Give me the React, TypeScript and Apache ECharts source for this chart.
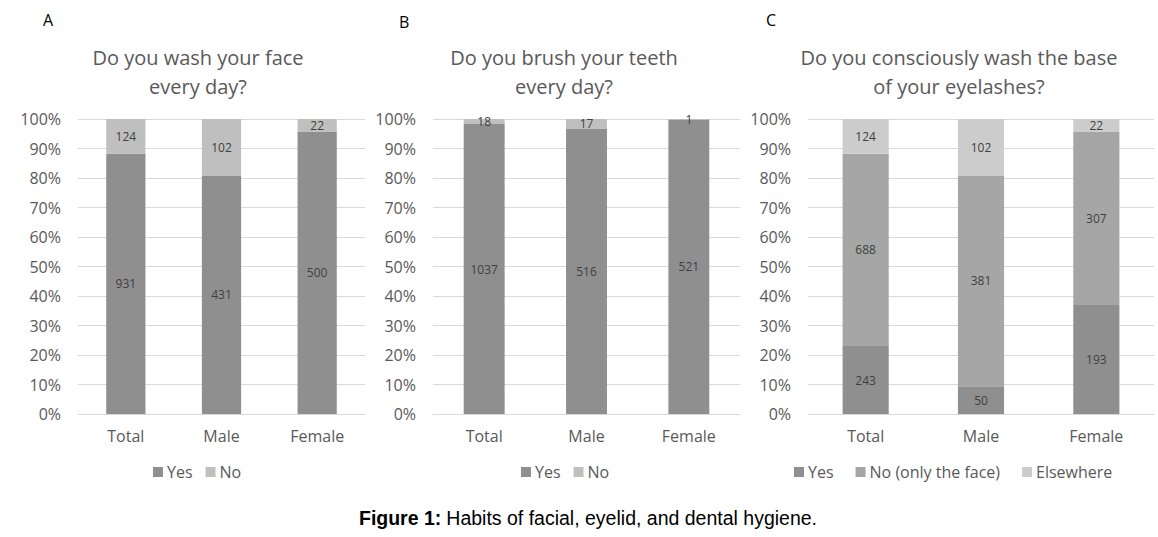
import React, { useEffect, useRef } from "react";
import * as echarts from "echarts";

const categories = ["Total", "Male", "Female"];
const faceYes = [931, 431, 500];
const faceNo = [124, 102, 22];
const teethYes = [1037, 516, 521];
const teethNo = [18, 17, 1];
const lashYes = [243, 50, 193];
const lashNoFace = [688, 381, 307];
const lashElsewhere = [124, 102, 22];
const yTicks = [0, 10, 20, 30, 40, 50, 60, 70, 80, 90, 100];

const FONT = "'Open Sans', sans-serif";
const TXT = "#595959";

function pct(values: number[], groups: number[][]) {
  return values.map((v, i) => {
    const tot = groups.reduce((s, g) => s + g[i], 0);
    return { value: (v / tot) * 100, count: v };
  });
}

export default function App() {
  const ref = useRef<HTMLDivElement>(null);
  useEffect(() => {
    const chart = echarts.init(ref.current!, null, { renderer: "svg" });
    const grids = [
      { left: 78, right: 1158 - 365, top: 119, bottom: 537 - 414 },
      { left: 433, right: 1158 - 740, top: 119, bottom: 537 - 414 },
      { left: 808, right: 4, top: 119, bottom: 537 - 414 },
    ];
    const xAxes = grids.map((_, i) => ({
      type: "category",
      gridIndex: i,
      data: categories,
      axisLine: { lineStyle: { color: "#d9d9d9" } },
      axisTick: { show: false },
      axisLabel: { color: TXT, fontFamily: FONT, fontSize: 16, margin: 14 },
    }));
    const yAxes = grids.map((_, i) => ({
      type: "value",
      gridIndex: i,
      min: 0,
      max: 100,
      interval: 10,
      axisLine: { show: false },
      axisTick: { show: false },
      splitLine: { lineStyle: { color: "#d9d9d9" } },
      axisLabel: {
        color: TXT,
        fontFamily: FONT,
        fontSize: 16,
        margin: 17,
        formatter: (v: number) => (yTicks.includes(v) ? v + "%" : ""),
      },
    }));
    const label = {
      show: true,
      position: "inside",
      color: "#404040",
      fontFamily: FONT,
      fontSize: 12,
      formatter: (p: any) => String(p.data.count),
    };
    const mk = (name: string, idx: number, data: any[], color: string, width: string) => ({
      name,
      type: "bar",
      stack: "s" + idx,
      xAxisIndex: idx,
      yAxisIndex: idx,
      barWidth: width,
      data,
      itemStyle: { color },
      label,
    });
    const faceG = [faceYes, faceNo];
    const teethG = [teethYes, teethNo];
    const lashG = [lashYes, lashNoFace, lashElsewhere];
    const series = [
      mk("Yes", 0, pct(faceYes, faceG), "#8f8f8f", "41%"),
      mk("No", 0, pct(faceNo, faceG), "#bfbfbf", "41%"),
      mk("Yes", 1, pct(teethYes, teethG), "#8f8f8f", "40%"),
      mk("No", 1, pct(teethNo, teethG), "#bfbfbf", "40%"),
      mk("Yes", 2, pct(lashYes, lashG), "#8f8f8f", "40%"),
      mk("No (only the face)", 2, pct(lashNoFace, lashG), "#a6a6a6", "40%"),
      mk("Elsewhere", 2, pct(lashElsewhere, lashG), "#cccccc", "40%"),
    ];
    const titleStyle = { color: TXT, fontFamily: FONT, fontSize: 20, fontWeight: "normal", lineHeight: 29 };
    const letterStyle = { color: "#000", fontFamily: FONT, fontSize: 16, fontWeight: "normal" };
    const legendBase = {
      itemWidth: 10,
      itemHeight: 10,
      itemGap: 13,
      icon: "rect",
      textStyle: { color: TXT, fontFamily: FONT, fontSize: 16, padding: [0, 0, 0, -1] },
      top: 459,
    };
    const capFont = "'Liberation Sans', sans-serif";
    chart.setOption({
      animation: false,
      backgroundColor: "#fff",
      grid: grids,
      xAxis: xAxes,
      yAxis: yAxes,
      title: [
        { text: "Do you wash your face\nevery day?", left: 193, top: 38, textAlign: "center", textStyle: titleStyle },
        { text: "Do you brush your teeth\nevery day?", left: 559, top: 38, textAlign: "center", textStyle: titleStyle },
        { text: "Do you consciously wash the base\nof your eyelashes?", left: 954, top: 38, textAlign: "center", textStyle: titleStyle },
        { text: "A", left: 38, top: 7, textStyle: letterStyle },
        { text: "B", left: 394, top: 9, textStyle: letterStyle },
        { text: "C", left: 761, top: 7, textStyle: letterStyle },
        {
          text: "{b|Figure 1:} {n|Habits of facial, eyelid, and dental hygiene.}",
          left: 583,
          top: 503,
          textAlign: "center",
          textStyle: {
            fontWeight: "normal",
            rich: {
              b: { fontFamily: capFont, fontWeight: "bold", fontSize: 19.5, color: "#000" },
              n: { fontFamily: capFont, fontWeight: "normal", fontSize: 19.5, color: "#000" },
            },
          },
        },
      ],
      legend: [
        { ...legendBase, data: ["Yes", "No"], left: 148 },
        { ...legendBase, data: ["Yes", "No"], left: 516 },
        { ...legendBase, itemGap: 22, data: ["Yes", "No (only the face)", "Elsewhere"], left: 789 },
      ],
      series,
    });
    return () => chart.dispose();
  }, []);
  return (
    <div
      ref={ref}
      style={{ position: "absolute", left: 0, top: 0, width: 1158, height: 537 }}
    />
  );
}
